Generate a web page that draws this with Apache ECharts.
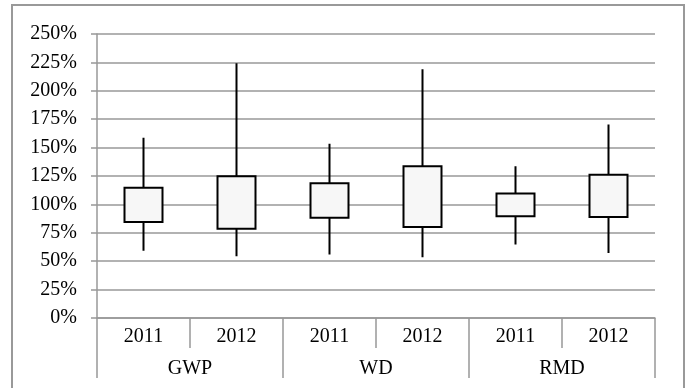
<!DOCTYPE html>
<html>
<head>
<meta charset="utf-8">
<script src="https://cdn.jsdelivr.net/npm/echarts@6/dist/echarts.min.js"></script>
<style>
html,body{margin:0;padding:0;background:#fff;}
#chart{width:688px;height:388px;}
</style>
</head>
<body>
<div id="chart"></div>
<script>
const years = ['2011', '2012', '2011', '2012', '2011', '2012'];
const groups = ['GWP', 'WD', 'RMD'];
const lowValues = [59.3, 54.3, 55.8, 53.4, 64.6, 57.3];
const q1Values = [84.6, 78.5, 88.2, 80.2, 89.6, 89.0];
const q3Values = [114.6, 124.8, 118.7, 133.6, 109.6, 126.1];
const highValues = [158.7, 224.2, 153.4, 218.9, 133.6, 170.4];
const yTicks = [0, 25, 50, 75, 100, 125, 150, 175, 200, 225, 250];

const candleData = years.map((y, i) => [q1Values[i], q3Values[i], lowValues[i], highValues[i]]);

const FONT = '"Liberation Serif", "Times New Roman", serif';
const GRID_COLOR = '#989898';

const chart = echarts.init(document.getElementById('chart'));
chart.setOption({
  animation: false,
  backgroundColor: '#fff',
  graphic: [{
    type: 'rect',
    shape: { x: 12, y: 5, width: 672, height: 420 },
    style: { fill: 'none', stroke: '#999', lineWidth: 2 },
    silent: true
  }],
  grid: { left: 97, right: 33, top: 34, bottom: 70, containLabel: false },
  xAxis: [{
    type: 'category',
    data: years,
    position: 'bottom',
    boundaryGap: true,
    axisLine: { show: true, lineStyle: { color: GRID_COLOR, width: 1.5 } },
    axisTick: { show: true, length: 30, lineStyle: { color: GRID_COLOR, width: 1.5 } },
    axisLabel: { color: '#000', fontFamily: FONT, fontSize: 20, margin: 9 },
    splitLine: { show: false }
  }, {
    type: 'category',
    data: groups,
    position: 'bottom',
    boundaryGap: true,
    axisLine: { show: false },
    axisTick: { show: true, length: 60, lineStyle: { color: GRID_COLOR, width: 1.5 } },
    axisLabel: { color: '#000', fontFamily: FONT, fontSize: 20, margin: 41 },
    splitLine: { show: false }
  }],
  yAxis: {
    type: 'value',
    min: yTicks[0],
    max: yTicks[yTicks.length - 1],
    interval: 25,
    axisLine: { show: true, lineStyle: { color: GRID_COLOR, width: 1.5 } },
    axisTick: { show: true, length: 6, lineStyle: { color: GRID_COLOR, width: 1.5 } },
    axisLabel: { color: '#000', fontFamily: FONT, fontSize: 20, margin: 20, formatter: '{value}%' },
    splitLine: { show: true, lineStyle: { color: GRID_COLOR, width: 1.5 } }
  },
  series: [{
    type: 'candlestick',
    xAxisIndex: 0,
    data: candleData,
    barWidth: 38,
    itemStyle: {
      color: '#f7f7f7',
      color0: '#f7f7f7',
      borderColor: '#000',
      borderColor0: '#000',
      borderWidth: 2
    }
  }]
});
</script>
</body>
</html>
